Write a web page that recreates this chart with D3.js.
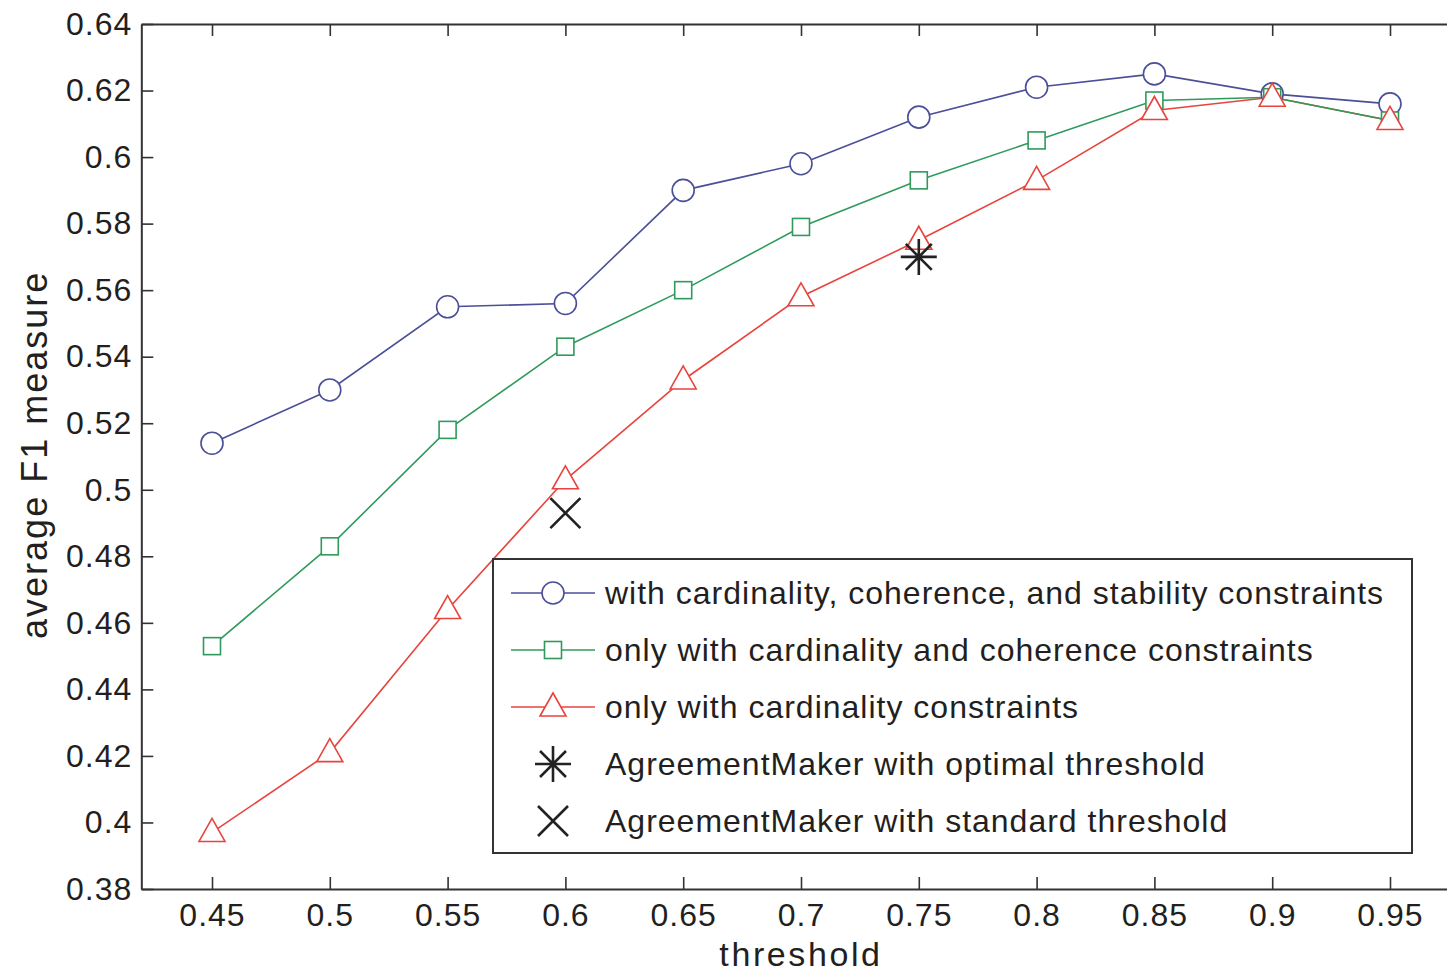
<!DOCTYPE html>
<html>
<head>
<meta charset="utf-8">
<script src="https://d3js.org/d3.v7.min.js"></script>
<style>
  body { margin: 0; background: #fff; }
  svg { display: block; font-family: "Liberation Sans", Arial, Helvetica, sans-serif; }
</style>
</head>
<body>
<svg id="chart"></svg>
<script>
const thresholds = [0.45, 0.5, 0.55, 0.6, 0.65, 0.7, 0.75, 0.8, 0.85, 0.9, 0.95];
const fullConstraints = [0.514, 0.530, 0.555, 0.556, 0.590, 0.598, 0.612, 0.621, 0.625, 0.619, 0.616];
const cardCoherence = [0.453, 0.483, 0.518, 0.543, 0.560, 0.579, 0.593, 0.605, 0.617, 0.618, 0.611];
const cardOnly = [0.397, 0.421, 0.464, 0.503, 0.533, 0.558, 0.575, 0.593, 0.614, 0.618, 0.611];
const amOptimal = { x: 0.75, y: 0.570 };
const amStandard = { x: 0.6, y: 0.493 };
const xTicks = [0.45, 0.5, 0.55, 0.6, 0.65, 0.7, 0.75, 0.8, 0.85, 0.9, 0.95];
const yTicks = [0.38, 0.4, 0.42, 0.44, 0.46, 0.48, 0.5, 0.52, 0.54, 0.56, 0.58, 0.6, 0.62, 0.64];

const series = [
    { name: 'with cardinality, coherence, and stability constraints', values: fullConstraints, color: '#4a4f98', symbol: 'circle' },
    { name: 'only with cardinality and coherence constraints', values: cardCoherence, color: '#2f9a5c', symbol: 'square' },
    { name: 'only with cardinality constraints', values: cardOnly, color: '#e8443e', symbol: 'triangle' }
];

const width = 1447, height = 974;
const svg = d3.select('#chart').attr('width', width).attr('height', height);

// 0.45 -> 212px, 0.95 -> 1390px
const pxPerUnit = (1390 - 212) / 0.5;
const xscale = d3.scaleLinear()
    .domain([0.42, 0.98])
    .range([212 - 0.03 * pxPerUnit, 212 + 0.53 * pxPerUnit]);
const yscale = d3.scaleLinear()
    .domain([0.38, 0.64])
    .range([889, 24]);

const plotLeft = xscale(0.42), plotTop = yscale(0.64), plotBottom = yscale(0.38);
const textColor = '#231f20';

// axes
const xaxis = d3.axisBottom(xscale).tickValues(xTicks).tickSizeInner(-12).tickSizeOuter(0).tickPadding(14)
    .tickFormat(d => String(+d.toFixed(2)));
const yaxis = d3.axisLeft(yscale).tickValues(yTicks).tickSizeInner(-12).tickSizeOuter(0).tickPadding(9)
    .tickFormat(d => String(+d.toFixed(2)));
const xtop = d3.axisTop(xscale).tickValues(xTicks).tickSizeInner(-12).tickSizeOuter(0).tickFormat('');

function styleAxis(g) {
    g.select('.domain').attr('stroke', '#333').attr('stroke-width', 2);
    g.selectAll('.tick line').attr('stroke', '#333').attr('stroke-width', 1.6);
    g.selectAll('.tick text').attr('fill', textColor).attr('font-size', 32)
        .attr('letter-spacing', 1)
        .attr('font-family', '"Liberation Sans", Arial, sans-serif');
}

svg.append('g').attr('transform', `translate(0,${plotBottom})`).call(xaxis).call(styleAxis);
svg.append('g').attr('transform', `translate(${plotLeft},0)`).call(yaxis).call(styleAxis);
svg.append('g').attr('transform', `translate(0,${plotTop})`).call(xtop).call(styleAxis);

// axis titles
svg.append('text')
    .attr('x', xscale(0.7)).attr('y', 966)
    .attr('text-anchor', 'middle').attr('font-size', 34).attr('letter-spacing', 2.6).attr('fill', textColor)
    .text('threshold');
svg.append('text')
    .attr('transform', `translate(47, ${yscale(0.5105)}) rotate(-90)`)
    .attr('text-anchor', 'middle').attr('font-size', 36).attr('letter-spacing', 2).attr('fill', textColor)
    .text('average F1 measure');

// symbols
function drawMarker(g, type, cx, cy, color) {
    if (type === 'circle') {
        g.append('circle').attr('cx', cx).attr('cy', cy).attr('r', 11)
            .attr('fill', '#fff').attr('stroke', color).attr('stroke-width', 1.6);
    } else if (type === 'square') {
        g.append('rect').attr('x', cx - 8.5).attr('y', cy - 8.5).attr('width', 17).attr('height', 17)
            .attr('fill', '#fff').attr('stroke', color).attr('stroke-width', 1.6);
    } else if (type === 'triangle') {
        g.append('path')
            .attr('d', `M${cx},${cy - 14}L${cx + 13},${cy + 9}L${cx - 13},${cy + 9}Z`)
            .attr('fill', '#fff').attr('stroke', color).attr('stroke-width', 1.6);
    } else if (type === 'asterisk') {
        const r = 18, d = r * 0.72;
        g.append('path')
            .attr('d', `M${cx - r},${cy}L${cx + r},${cy}M${cx},${cy - r}L${cx},${cy + r}` +
                `M${cx - d},${cy - d}L${cx + d},${cy + d}M${cx - d},${cy + d}L${cx + d},${cy - d}`)
            .attr('stroke', color).attr('stroke-width', 2.6).attr('fill', 'none');
    } else if (type === 'x') {
        const d = 15;
        g.append('path')
            .attr('d', `M${cx - d},${cy - d}L${cx + d},${cy + d}M${cx - d},${cy + d}L${cx + d},${cy - d}`)
            .attr('stroke', color).attr('stroke-width', 2.6).attr('fill', 'none');
    }
}

const plot = svg.append('g');
const line = d3.line().x(d => xscale(d[0])).y(d => yscale(d[1]));

// red drawn first, blue on top like the reference
series.slice().reverse().forEach(s => {
    const pts = thresholds.map((t, i) => [t, s.values[i]]);
    plot.append('path').datum(pts).attr('d', line)
        .attr('fill', 'none').attr('stroke', s.color).attr('stroke-width', 1.6);
});
series.forEach(s => {
    const g = plot.append('g');
    thresholds.forEach((t, i) => drawMarker(g, s.symbol, xscale(t), yscale(s.values[i]), s.color));
});

drawMarker(plot, 'asterisk', xscale(amOptimal.x), yscale(amOptimal.y), '#222');
drawMarker(plot, 'x', xscale(amStandard.x), yscale(amStandard.y), '#222');

// legend
const legendItems = series.map(s => ({ name: s.name, color: s.color, symbol: s.symbol, line: true }))
    .concat([
        { name: 'AgreementMaker with optimal threshold', color: '#222', symbol: 'asterisk', line: false },
        { name: 'AgreementMaker with standard threshold', color: '#222', symbol: 'x', line: false }
    ]);

const legend = svg.append('g').attr('transform', 'translate(493,559)');
legend.append('rect').attr('width', 919).attr('height', 294)
    .attr('fill', '#fff').attr('stroke', '#333').attr('stroke-width', 2);
legendItems.forEach((it, i) => {
    const y = 34 + i * 57;
    const g = legend.append('g');
    if (it.line) {
        g.append('line').attr('x1', 18).attr('x2', 102).attr('y1', y).attr('y2', y)
            .attr('stroke', it.color).attr('stroke-width', 1.6);
    }
    drawMarker(g, it.symbol, 60, y, it.color);
    g.append('text').attr('x', 112).attr('y', y + 11)
        .attr('font-size', 32).attr('letter-spacing', 1).attr('fill', textColor).text(it.name);
});
</script>
</body>
</html>
